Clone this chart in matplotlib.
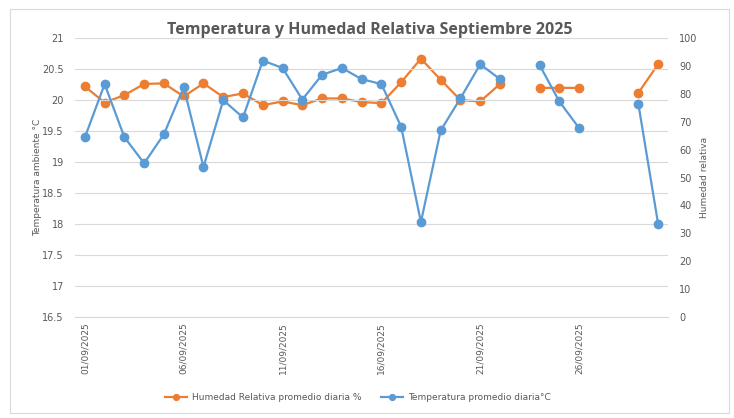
import matplotlib
matplotlib.use("Agg")
import matplotlib.pyplot as plt
from matplotlib.patches import Rectangle
import numpy as np

nan = np.nan
days = list(range(1, 31))
tick_days = [1, 6, 11, 16, 21, 26]
tick_labels = ["01/09/2025", "06/09/2025", "11/09/2025", "16/09/2025", "21/09/2025", "26/09/2025"]

temp_c = [19.40, 20.26, 19.40, 18.98, 19.45, 20.21, 18.92, 20.00, 19.72, 20.64,
          20.52, 20.01, 20.41, 20.52, 20.34, 20.26, 19.57, 18.03, 19.51, 20.03,
          20.58, 20.34, nan, 20.57, 19.98, 19.55, nan, nan, 19.94, 18.00]
hum_pct = [82.7, 76.9, 79.6, 83.6, 83.8, 79.1, 83.8, 78.9, 80.2, 76.0,
           77.3, 76.0, 78.4, 78.4, 77.1, 76.7, 84.2, 92.7, 85.1, 77.8,
           77.3, 83.6, nan, 82.2, 82.2, 82.2, nan, nan, 80.4, 90.7]

ORANGE = "#ED7D31"
BLUE = "#5B9BD5"
GRAY = "#595959"
GRID = "#D9D9D9"

fig = plt.figure(figsize=(7.34, 4.18), dpi=100)
fig.patches.append(Rectangle((10/734, 1-413/418), 719/734, 404/418, transform=fig.transFigure,
                             fill=False, edgecolor="#D9D9D9", linewidth=0.8))
ax = fig.add_axes([75/734, 1-316.7/418, 593/734, (316.7-38.3)/418])
ax2 = ax.twinx()

ax.set_xlim(0.5, 30.5)
ax.set_ylim(16.5, 21)
ax2.set_ylim(0, 100)
ax.set_yticks(np.arange(16.5, 21.01, 0.5))
ax.set_yticklabels([f"{v:g}" for v in np.arange(16.5, 21.01, 0.5)])
ax2.set_yticks(np.arange(0, 101, 10))

ax.yaxis.grid(True, color=GRID, linewidth=0.8)
ax.set_axisbelow(True)
for a in (ax, ax2):
    for s in a.spines.values():
        s.set_visible(False)
    a.tick_params(axis="y", length=0, labelsize=7, colors=GRAY, pad=8)
ax.spines["bottom"].set_visible(True)
ax.spines["bottom"].set_color(GRID)
ax.spines["bottom"].set_linewidth(0.8)

ax.set_xticks(tick_days)
ax.set_xticklabels(tick_labels, rotation=90, fontsize=6.5, color=GRAY)
ax.tick_params(axis="x", length=0, pad=4)

ax.set_ylabel("Temperatura ambiente °C", fontsize=6.5, color=GRAY, labelpad=0)
ax2.set_ylabel("Humedad relativa", fontsize=6.5, color=GRAY, labelpad=2)

l1, = ax2.plot(days, hum_pct, color=ORANGE, linewidth=1.6, marker="o", markersize=6,
               label="Humedad Relativa promedio diaria %", zorder=3)
l2, = ax.plot(days, temp_c, color=BLUE, linewidth=1.6, marker="o", markersize=6,
              label="Temperatura promedio diaria°C", zorder=3)
ax.set_zorder(ax2.get_zorder() + 1)
ax.patch.set_visible(False)

fig.text(370/734, 1-30/418, "Temperatura y Humedad Relativa Septiembre 2025",
         ha="center", va="center", fontsize=11.5, fontweight="bold", color=GRAY,
         family="Open Sans")

leg = fig.legend([l1, l2], [l1.get_label(), l2.get_label()], loc="center",
                 bbox_to_anchor=(358/734, 1-398/418), ncol=2, frameon=False,
                 fontsize=6.5, labelcolor=GRAY, handlelength=2.4, columnspacing=2.2,
                 handletextpad=0.6, markerscale=0.7)

fig.savefig("out.png", dpi=100)
